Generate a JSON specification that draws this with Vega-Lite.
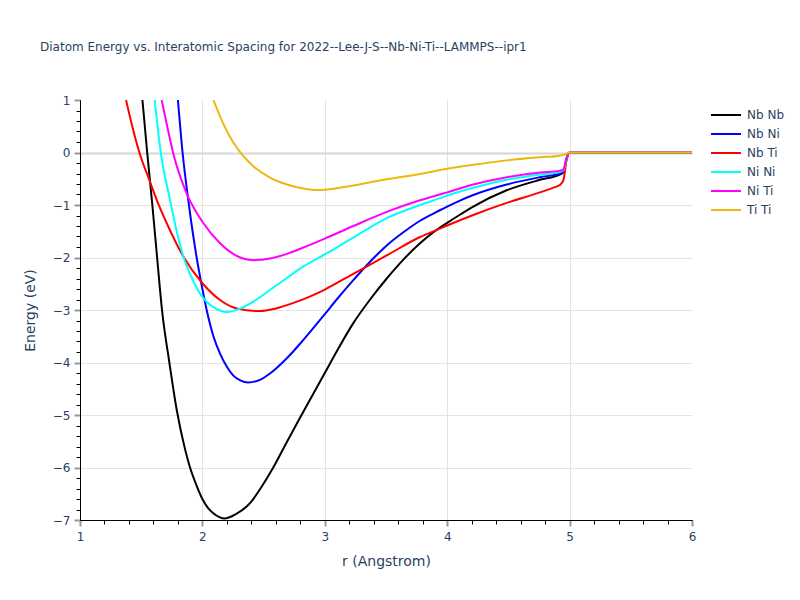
{
  "$schema": "https://vega.github.io/schema/vega-lite/v6.json",
  "width": 612,
  "height": 420,
  "autosize": "none",
  "padding": {"left": 80, "top": 100, "right": 108, "bottom": 80},
  "background": "white",
  "title": {
    "text": "Diatom Energy vs. Interatomic Spacing for 2022--Lee-J-S--Nb-Ni-Ti--LAMMPS--ipr1",
    "anchor": "start",
    "frame": "group",
    "dx": -40,
    "offset": 31,
    "baseline": "alphabetic",
    "font": "DejaVu Sans",
    "fontSize": 12,
    "fontWeight": "normal",
    "color": "#2a3f5f"
  },
  "data": {
    "values": [
      {"pair": "Nb Nb", "r": 1.51, "E": 1.0},
      {"pair": "Nb Nb", "r": 1.549, "E": 0.0},
      {"pair": "Nb Nb", "r": 1.591, "E": -1.0},
      {"pair": "Nb Nb", "r": 1.63, "E": -2.0},
      {"pair": "Nb Nb", "r": 1.67, "E": -3.0},
      {"pair": "Nb Nb", "r": 1.73, "E": -4.0},
      {"pair": "Nb Nb", "r": 1.79, "E": -4.9},
      {"pair": "Nb Nb", "r": 1.858, "E": -5.65},
      {"pair": "Nb Nb", "r": 1.899, "E": -6.0},
      {"pair": "Nb Nb", "r": 1.95, "E": -6.33},
      {"pair": "Nb Nb", "r": 2.0, "E": -6.6},
      {"pair": "Nb Nb", "r": 2.045, "E": -6.77},
      {"pair": "Nb Nb", "r": 2.089, "E": -6.87},
      {"pair": "Nb Nb", "r": 2.185, "E": -6.97},
      {"pair": "Nb Nb", "r": 2.28, "E": -6.88},
      {"pair": "Nb Nb", "r": 2.389, "E": -6.68},
      {"pair": "Nb Nb", "r": 2.48, "E": -6.38},
      {"pair": "Nb Nb", "r": 2.579, "E": -6.0},
      {"pair": "Nb Nb", "r": 2.7, "E": -5.47},
      {"pair": "Nb Nb", "r": 2.81, "E": -5.0},
      {"pair": "Nb Nb", "r": 3.0, "E": -4.2},
      {"pair": "Nb Nb", "r": 3.097, "E": -3.79},
      {"pair": "Nb Nb", "r": 3.233, "E": -3.25},
      {"pair": "Nb Nb", "r": 3.37, "E": -2.8},
      {"pair": "Nb Nb", "r": 3.506, "E": -2.4},
      {"pair": "Nb Nb", "r": 3.642, "E": -2.04},
      {"pair": "Nb Nb", "r": 3.778, "E": -1.73},
      {"pair": "Nb Nb", "r": 3.887, "E": -1.52},
      {"pair": "Nb Nb", "r": 4.0, "E": -1.34},
      {"pair": "Nb Nb", "r": 4.1, "E": -1.19},
      {"pair": "Nb Nb", "r": 4.213, "E": -1.03},
      {"pair": "Nb Nb", "r": 4.486, "E": -0.72},
      {"pair": "Nb Nb", "r": 4.758, "E": -0.52},
      {"pair": "Nb Nb", "r": 4.92, "E": -0.42},
      {"pair": "Nb Nb", "r": 4.95, "E": -0.38},
      {"pair": "Nb Nb", "r": 4.975, "E": -0.12},
      {"pair": "Nb Nb", "r": 5.0, "E": 0.0},
      {"pair": "Nb Nb", "r": 6.0, "E": 0.0},

      {"pair": "Nb Ni", "r": 1.8, "E": 1.0},
      {"pair": "Nb Ni", "r": 1.838, "E": 0.0},
      {"pair": "Nb Ni", "r": 1.89, "E": -1.0},
      {"pair": "Nb Ni", "r": 1.953, "E": -2.0},
      {"pair": "Nb Ni", "r": 2.0, "E": -2.6},
      {"pair": "Nb Ni", "r": 2.035, "E": -3.0},
      {"pair": "Nb Ni", "r": 2.09, "E": -3.5},
      {"pair": "Nb Ni", "r": 2.144, "E": -3.83},
      {"pair": "Nb Ni", "r": 2.2, "E": -4.08},
      {"pair": "Nb Ni", "r": 2.253, "E": -4.25},
      {"pair": "Nb Ni", "r": 2.31, "E": -4.34},
      {"pair": "Nb Ni", "r": 2.375, "E": -4.38},
      {"pair": "Nb Ni", "r": 2.47, "E": -4.33},
      {"pair": "Nb Ni", "r": 2.552, "E": -4.21},
      {"pair": "Nb Ni", "r": 2.69, "E": -3.92},
      {"pair": "Nb Ni", "r": 2.825, "E": -3.57},
      {"pair": "Nb Ni", "r": 3.0, "E": -3.08},
      {"pair": "Nb Ni", "r": 3.097, "E": -2.8},
      {"pair": "Nb Ni", "r": 3.233, "E": -2.43},
      {"pair": "Nb Ni", "r": 3.37, "E": -2.08},
      {"pair": "Nb Ni", "r": 3.506, "E": -1.77},
      {"pair": "Nb Ni", "r": 3.642, "E": -1.52},
      {"pair": "Nb Ni", "r": 3.778, "E": -1.3},
      {"pair": "Nb Ni", "r": 3.94, "E": -1.1},
      {"pair": "Nb Ni", "r": 4.0, "E": -1.03},
      {"pair": "Nb Ni", "r": 4.1, "E": -0.92},
      {"pair": "Nb Ni", "r": 4.213, "E": -0.81},
      {"pair": "Nb Ni", "r": 4.486, "E": -0.61},
      {"pair": "Nb Ni", "r": 4.758, "E": -0.47},
      {"pair": "Nb Ni", "r": 4.92, "E": -0.4},
      {"pair": "Nb Ni", "r": 4.95, "E": -0.37},
      {"pair": "Nb Ni", "r": 4.975, "E": -0.12},
      {"pair": "Nb Ni", "r": 5.0, "E": 0.0},
      {"pair": "Nb Ni", "r": 6.0, "E": 0.0},

      {"pair": "Nb Ti", "r": 1.376, "E": 1.0},
      {"pair": "Nb Ti", "r": 1.43, "E": 0.47},
      {"pair": "Nb Ti", "r": 1.485, "E": 0.0},
      {"pair": "Nb Ti", "r": 1.566, "E": -0.52},
      {"pair": "Nb Ti", "r": 1.64, "E": -0.98},
      {"pair": "Nb Ti", "r": 1.735, "E": -1.48},
      {"pair": "Nb Ti", "r": 1.844, "E": -1.98},
      {"pair": "Nb Ti", "r": 2.0, "E": -2.49},
      {"pair": "Nb Ti", "r": 2.144, "E": -2.81},
      {"pair": "Nb Ti", "r": 2.28, "E": -2.97},
      {"pair": "Nb Ti", "r": 2.47, "E": -3.02},
      {"pair": "Nb Ti", "r": 2.6, "E": -2.97},
      {"pair": "Nb Ti", "r": 2.75, "E": -2.86},
      {"pair": "Nb Ti", "r": 2.9, "E": -2.72},
      {"pair": "Nb Ti", "r": 3.0, "E": -2.61},
      {"pair": "Nb Ti", "r": 3.233, "E": -2.31},
      {"pair": "Nb Ti", "r": 3.506, "E": -1.96},
      {"pair": "Nb Ti", "r": 3.778, "E": -1.61},
      {"pair": "Nb Ti", "r": 3.94, "E": -1.45},
      {"pair": "Nb Ti", "r": 4.0, "E": -1.39},
      {"pair": "Nb Ti", "r": 4.213, "E": -1.19},
      {"pair": "Nb Ti", "r": 4.486, "E": -0.96},
      {"pair": "Nb Ti", "r": 4.758, "E": -0.76},
      {"pair": "Nb Ti", "r": 4.88, "E": -0.66},
      {"pair": "Nb Ti", "r": 4.92, "E": -0.62},
      {"pair": "Nb Ti", "r": 4.95, "E": -0.52},
      {"pair": "Nb Ti", "r": 4.975, "E": -0.15},
      {"pair": "Nb Ti", "r": 5.0, "E": 0.0},
      {"pair": "Nb Ti", "r": 6.0, "E": 0.0},

      {"pair": "Ni Ni", "r": 1.61, "E": 1.0},
      {"pair": "Ni Ni", "r": 1.66, "E": 0.0},
      {"pair": "Ni Ni", "r": 1.735, "E": -0.9},
      {"pair": "Ni Ni", "r": 1.79, "E": -1.5},
      {"pair": "Ni Ni", "r": 1.844, "E": -1.98},
      {"pair": "Ni Ni", "r": 1.92, "E": -2.42},
      {"pair": "Ni Ni", "r": 2.0, "E": -2.75},
      {"pair": "Ni Ni", "r": 2.1, "E": -2.96},
      {"pair": "Ni Ni", "r": 2.2, "E": -3.04},
      {"pair": "Ni Ni", "r": 2.3, "E": -2.98},
      {"pair": "Ni Ni", "r": 2.416, "E": -2.84},
      {"pair": "Ni Ni", "r": 2.552, "E": -2.62},
      {"pair": "Ni Ni", "r": 2.69, "E": -2.39},
      {"pair": "Ni Ni", "r": 2.825, "E": -2.17},
      {"pair": "Ni Ni", "r": 3.0, "E": -1.94},
      {"pair": "Ni Ni", "r": 3.233, "E": -1.62},
      {"pair": "Ni Ni", "r": 3.506, "E": -1.25},
      {"pair": "Ni Ni", "r": 3.778, "E": -1.0},
      {"pair": "Ni Ni", "r": 3.94, "E": -0.87},
      {"pair": "Ni Ni", "r": 4.0, "E": -0.82},
      {"pair": "Ni Ni", "r": 4.213, "E": -0.67},
      {"pair": "Ni Ni", "r": 4.486, "E": -0.52},
      {"pair": "Ni Ni", "r": 4.758, "E": -0.42},
      {"pair": "Ni Ni", "r": 4.92, "E": -0.37},
      {"pair": "Ni Ni", "r": 4.95, "E": -0.34},
      {"pair": "Ni Ni", "r": 4.975, "E": -0.11},
      {"pair": "Ni Ni", "r": 5.0, "E": 0.0},
      {"pair": "Ni Ni", "r": 6.0, "E": 0.0},

      {"pair": "Ni Ti", "r": 1.667, "E": 1.0},
      {"pair": "Ni Ti", "r": 1.715, "E": 0.47},
      {"pair": "Ni Ti", "r": 1.76, "E": 0.0},
      {"pair": "Ni Ti", "r": 1.871, "E": -0.78},
      {"pair": "Ni Ti", "r": 2.0, "E": -1.32},
      {"pair": "Ni Ti", "r": 2.144, "E": -1.73},
      {"pair": "Ni Ti", "r": 2.28, "E": -1.97},
      {"pair": "Ni Ti", "r": 2.416, "E": -2.05},
      {"pair": "Ni Ti", "r": 2.552, "E": -2.02},
      {"pair": "Ni Ti", "r": 2.69, "E": -1.93},
      {"pair": "Ni Ti", "r": 2.825, "E": -1.81},
      {"pair": "Ni Ti", "r": 3.0, "E": -1.64},
      {"pair": "Ni Ti", "r": 3.233, "E": -1.4},
      {"pair": "Ni Ti", "r": 3.506, "E": -1.13},
      {"pair": "Ni Ti", "r": 3.778, "E": -0.91},
      {"pair": "Ni Ti", "r": 3.94, "E": -0.8},
      {"pair": "Ni Ti", "r": 4.0, "E": -0.76},
      {"pair": "Ni Ti", "r": 4.213, "E": -0.61},
      {"pair": "Ni Ti", "r": 4.486, "E": -0.47},
      {"pair": "Ni Ti", "r": 4.758, "E": -0.38},
      {"pair": "Ni Ti", "r": 4.92, "E": -0.35},
      {"pair": "Ni Ti", "r": 4.95, "E": -0.32},
      {"pair": "Ni Ti", "r": 4.975, "E": -0.1},
      {"pair": "Ni Ti", "r": 5.0, "E": 0.0},
      {"pair": "Ni Ti", "r": 6.0, "E": 0.0},

      {"pair": "Ti Ti", "r": 2.09, "E": 1.0},
      {"pair": "Ti Ti", "r": 2.17, "E": 0.55},
      {"pair": "Ti Ti", "r": 2.25, "E": 0.2},
      {"pair": "Ti Ti", "r": 2.335, "E": -0.07},
      {"pair": "Ti Ti", "r": 2.416, "E": -0.26},
      {"pair": "Ti Ti", "r": 2.552, "E": -0.48},
      {"pair": "Ti Ti", "r": 2.69, "E": -0.61},
      {"pair": "Ti Ti", "r": 2.825, "E": -0.685},
      {"pair": "Ti Ti", "r": 2.95, "E": -0.715},
      {"pair": "Ti Ti", "r": 3.1, "E": -0.68},
      {"pair": "Ti Ti", "r": 3.233, "E": -0.63},
      {"pair": "Ti Ti", "r": 3.506, "E": -0.51},
      {"pair": "Ti Ti", "r": 3.778, "E": -0.41},
      {"pair": "Ti Ti", "r": 4.0, "E": -0.31},
      {"pair": "Ti Ti", "r": 4.213, "E": -0.235},
      {"pair": "Ti Ti", "r": 4.486, "E": -0.15},
      {"pair": "Ti Ti", "r": 4.758, "E": -0.09},
      {"pair": "Ti Ti", "r": 4.92, "E": -0.06},
      {"pair": "Ti Ti", "r": 4.96, "E": -0.04},
      {"pair": "Ti Ti", "r": 5.0, "E": 0.0},
      {"pair": "Ti Ti", "r": 6.0, "E": 0.0}
    ]
  },
  "layer": [
    {
      "mark": {"type": "line", "strokeWidth": 2, "interpolate": "monotone", "clip": true},
      "encoding": {
        "x": {
          "field": "r",
          "type": "quantitative",
          "scale": {"domain": [1, 6], "nice": false, "zero": false},
          "axis": {
            "orient": "bottom",
            "title": "r (Angstrom)",
            "values": [1, 2, 3, 4, 5, 6],
            "format": "d",
            "labelFlush": false,
            "grid": true,
            "gridColor": "#e3e3e3",
            "gridOpacity": {"condition": {"test": "datum.value === 6", "value": 0}, "value": 1},
            "domain": true,
            "domainColor": "#000000",
            "tickColor": "#999999",
            "tickSize": 6,
            "tickWidth": 2,
            "labelPadding": 5,
            "titlePadding": 12
          }
        },
        "y": {
          "field": "E",
          "type": "quantitative",
          "scale": {"domain": [-7, 1], "nice": false, "zero": false},
          "axis": {
            "orient": "left",
            "title": "Energy (eV)",
            "values": [-7, -6, -5, -4, -3, -2, -1, 0, 1],
            "format": "d",
            "labelFlush": false,
            "grid": true,
            "gridColor": {"condition": {"test": "datum.value === 0", "value": "#d6d6d6"}, "value": "#e3e3e3"},
            "gridWidth": {"condition": {"test": "datum.value === 0", "value": 2}, "value": 1},
            "gridOpacity": {"condition": {"test": "datum.value === 1", "value": 0}, "value": 1},
            "domain": true,
            "domainColor": "#000000",
            "tickColor": "#999999",
            "tickSize": 6,
            "tickWidth": 2,
            "labelPadding": 4,
            "titlePadding": 15
          }
        },
        "color": {
          "field": "pair",
          "type": "nominal",
          "scale": {
            "domain": ["Nb Nb", "Nb Ni", "Nb Ti", "Ni Ni", "Ni Ti", "Ti Ti"],
            "range": ["#000000", "#0000ff", "#ff0000", "#00ffff", "#ff00ff", "#ecb70f"]
          },
          "legend": {
            "title": null,
            "orient": "right",
            "offset": 19,
            "padding": 9,
            "symbolType": "M-3,0H3",
            "symbolSize": 100,
            "symbolStrokeWidth": 2,
            "symbolFillColor": "transparent",
            "rowPadding": 7,
            "labelOffset": 15
          }
        }
      }
    },
    {
      "mark": {"type": "line", "opacity": 0, "clip": true},
      "encoding": {
        "x": {
          "field": "r",
          "type": "quantitative",
          "axis": {
            "orient": "bottom",
            "title": null,
            "labels": false,
            "grid": false,
            "values": [1.2, 1.4, 1.6, 1.8, 2.2, 2.4, 2.6, 2.8, 3.2, 3.4, 3.6, 3.8, 4.2, 4.4, 4.6, 4.8, 5.2, 5.4, 5.6, 5.8],
            "domain": true,
            "domainColor": "#000000",
            "tickColor": "#000000",
            "tickSize": 4,
            "tickWidth": 1
          }
        },
        "y": {
          "field": "E",
          "type": "quantitative",
          "axis": {
            "orient": "left",
            "title": null,
            "labels": false,
            "grid": false,
            "values": [-6.8, -6.6, -6.4, -6.2, -5.8, -5.6, -5.4, -5.2, -4.8, -4.6, -4.4, -4.2, -3.8, -3.6, -3.4, -3.2, -2.8, -2.6, -2.4, -2.2, -1.8, -1.6, -1.4, -1.2, -0.8, -0.6, -0.4, -0.2, 0.2, 0.4, 0.6, 0.8],
            "domain": true,
            "domainColor": "#000000",
            "tickColor": "#000000",
            "tickSize": 4,
            "tickWidth": 1
          }
        },
        "detail": {"field": "pair", "type": "nominal"}
      }
    }
  ],
  "resolve": {"axis": {"x": "independent", "y": "independent"}},
  "config": {
    "view": {"stroke": null},
    "font": "DejaVu Sans",
    "axis": {
      "labelFont": "DejaVu Sans",
      "labelFontSize": 12,
      "labelColor": "#2a3f5f",
      "titleFont": "DejaVu Sans",
      "titleFontSize": 14,
      "titleFontWeight": "normal",
      "titleColor": "#2a3f5f"
    },
    "legend": {
      "labelFont": "DejaVu Sans",
      "labelFontSize": 12,
      "labelColor": "#2a3f5f"
    }
  }
}
